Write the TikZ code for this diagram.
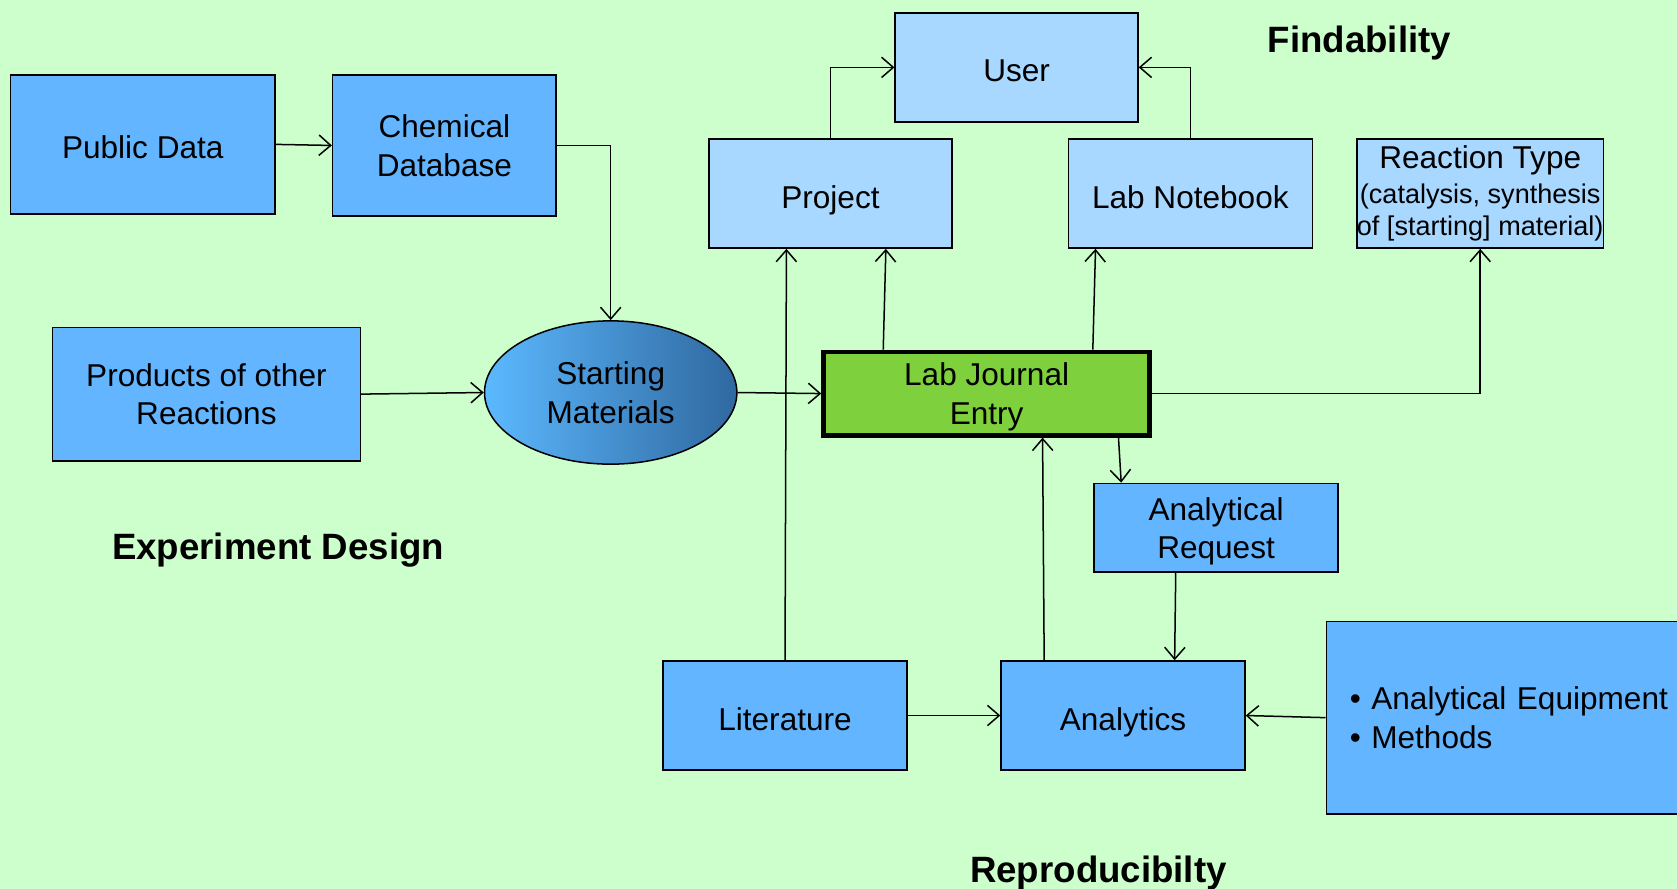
\documentclass[tikz,border=0pt]{standalone}
\usepackage{fontspec}
\setmainfont{Liberation Sans}
\usetikzlibrary{shapes.geometric,arrows.meta}
\definecolor{bggreen}{HTML}{CCFFCC}
\definecolor{midblue}{HTML}{63B5FF}
\definecolor{paleblue}{HTML}{A8D8FF}
\definecolor{entrygreen}{HTML}{7ED03C}
\definecolor{shadeleft}{HTML}{5CB9FF}
\definecolor{shaderight}{HTML}{2F68A0}
\tikzset{
  box/.style={draw, line width=0.8pt, fill=midblue, align=center, inner sep=0pt,
    font=\fontsize{16.8}{20.4}\selectfont},
  palebox/.style={box, fill=paleblue},
  oneline/.style={text height=18.5pt, text depth=3pt},
  twoline/.style={text depth=0pt},
  arr/.style={-{Straight Barb[length=2.2mm,width=3.8mm]}, line width=0.8pt},
  heading/.style={font=\fontsize{19.5}{23}\selectfont\bfseries}
}
\newcommand{\smalltxt}{\fontsize{14.4}{17}\selectfont}
\begin{document}
\begin{tikzpicture}[x=0.02cm,y=-0.02cm]
  \fill[bggreen] (0,0) rectangle (1568,831);
  \clip (0,0) rectangle (1568,831);
  \node (pub) at (133.5,135) [box, oneline, minimum width=4.94cm, minimum height=2.6cm] {Public Data};
  \node (chem) at (415.5,136) [box, twoline, minimum width=4.18cm, minimum height=2.64cm] {Chemical\\Database};
  \node (prod) at (193,368.5) [box, twoline, minimum width=5.76cm, minimum height=2.5cm] {Products of other\\Reactions};
  \node (sm) at (571,367) [ellipse, draw, line width=0.8pt, left color=shadeleft, right color=shaderight,
    minimum width=4.72cm, minimum height=2.68cm, inner sep=0pt, align=center, text depth=0pt,
    font=\fontsize{16.8}{20.4}\selectfont] {Starting\\Materials};
  \node (lje) at (922.5,368) [box, twoline, fill=entrygreen, line width=2.5pt, minimum width=6.1cm, minimum height=1.56cm] {Lab Journal\\Entry};
  \node (user) at (950.5,63) [palebox, oneline, minimum width=4.54cm, minimum height=2.04cm] {User};
  \node (proj) at (776.5,181) [palebox, oneline, minimum width=4.54cm, minimum height=2.04cm] {Project};
  \node (nb) at (1113,181) [palebox, oneline, minimum width=4.56cm, minimum height=2.04cm] {Lab Notebook};
  \node (rt) at (1384,181) [palebox, text depth=3.4pt, minimum width=4.56cm, minimum height=2.04cm]
    {Reaction Type\\[-1.7pt]{\smalltxt(catalysis, synthesis}\\[-3.2pt]{\smalltxt of [starting] material)}};
  \node (req) at (1137,493.5) [box, twoline, minimum width=4.56cm, minimum height=1.66cm] {Analytical\\Request};
  \node (lit) at (734,669) [box, oneline, minimum width=4.56cm, minimum height=2.04cm] {Literature};
  \node (ana) at (1050,669) [box, oneline, minimum width=4.56cm, minimum height=2.04cm] {Analytics};
  \node (equip) at (1420,671) [box, minimum width=7.2cm, minimum height=3.6cm, inner xsep=0.44cm,
    text width=6.32cm, align=left] {\textbullet\ Analytical Equipment\\\textbullet\ Methods};
  \node (find) at (1271,40) [heading] {Findability};
  \node (design) at (260,514) [heading] {Experiment Design};
  \node (repro) at (1027,816) [heading] {Reproducibilty};
  \draw[arr] (pub.east) -- (chem.west);
  \draw[arr] (chem.east) -| (sm.north);
  \draw[arr] (prod.east) -- (sm.west);
  \draw[arr] (sm.east) -- (lje.west);
  \draw[arr] ([xshift=1.16cm]lje.north west) -- ([xshift=3.32cm]proj.south west);
  \draw[arr] ([xshift=5.08cm]lje.north west) -- ([xshift=0.52cm]nb.south west);
  \draw[arr] (lje.east) -| (rt.south);
  \draw[arr] (proj.north) |- (user.west);
  \draw[arr] (nb.north) |- (user.east);
  \draw[arr] ([xshift=5.56cm]lje.south west) -- ([xshift=0.52cm]req.north west);
  \draw[arr] ([xshift=1.54cm]req.south west) -- ([xshift=3.26cm]ana.north west);
  \draw[arr] ([xshift=0.82cm]ana.north west) -- ([xshift=4.14cm]lje.south west);
  \draw[arr] (lit.north) -- ([xshift=1.46cm]proj.south west);
  \draw[arr] (lit.east) -- (ana.west);
  \draw[arr] (equip.west) -- (ana.east);
\end{tikzpicture}
\end{document}
